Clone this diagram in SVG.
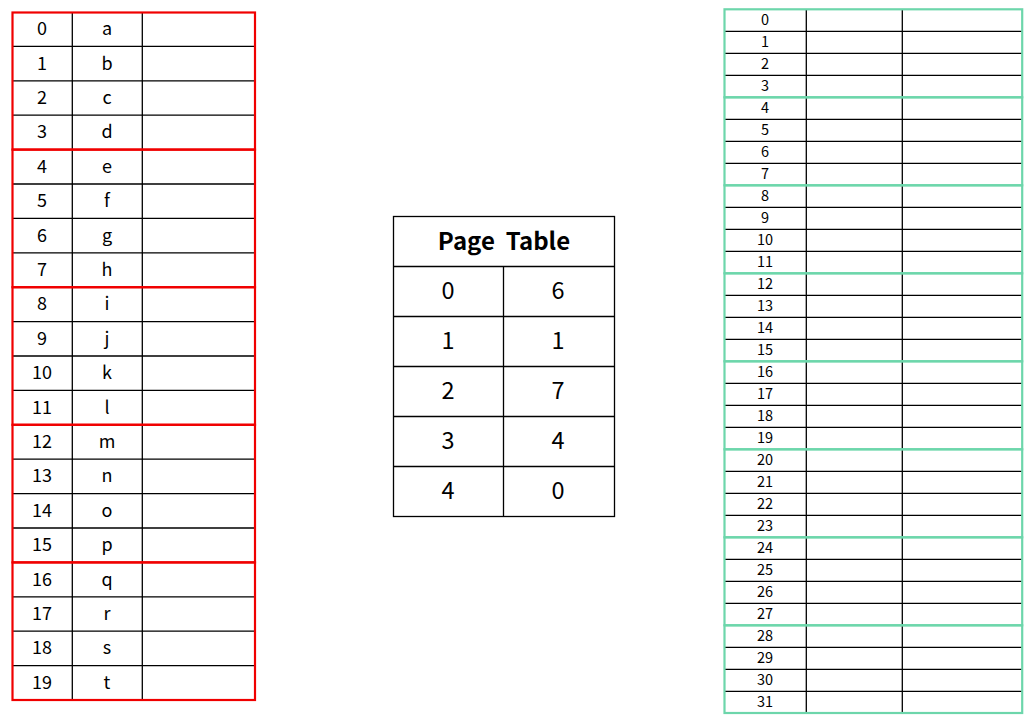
<svg xmlns="http://www.w3.org/2000/svg" width="1032" height="727" viewBox="0 0 1032 727">
<style>
.g{fill:none;stroke:#000;stroke-width:1.3}
.red{fill:none;stroke:#f00000;stroke-width:2.2}
.grn{fill:none;stroke:#6dd6ab;stroke-width:2.2}
text{font-family:"Noto Sans CJK KR","Noto Sans",sans-serif;fill:#000;text-anchor:middle;dominant-baseline:central}
.l{font-size:18px}
.r{font-size:14.5px}
.p{font-size:23.5px}
.h{font-size:24px;font-weight:bold;white-space:pre}
</style>
<rect width="1032" height="727" fill="#fff"/>

<g id="logical-memory">
<path class="g" d="M72.3 12V700M142.3 12V700M12 46.4H255M12 80.8H255M12 115.2H255M12 184H255M12 218.4H255M12 252.8H255M12 321.6H255M12 356H255M12 390.4H255M12 459.2H255M12 493.6H255M12 528H255M12 596.8H255M12 631.2H255M12 665.6H255"/>
<rect class="red" x="12.5" y="12.5" width="242.5" height="137.1"/>
<rect class="red" x="12.5" y="149.6" width="242.5" height="137.6"/>
<rect class="red" x="12.5" y="287.2" width="242.5" height="137.6"/>
<rect class="red" x="12.5" y="424.8" width="242.5" height="137.6"/>
<rect class="red" x="12.5" y="562.4" width="242.5" height="137.6"/>
<g class="l" transform="translate(0,-2)">
<text x="42" y="29.2">0</text><text x="107" y="29.2">a</text>
<text x="42" y="63.6">1</text><text x="107" y="63.6">b</text>
<text x="42" y="98">2</text><text x="107" y="98">c</text>
<text x="42" y="132.4">3</text><text x="107" y="132.4">d</text>
<text x="42" y="166.8">4</text><text x="107" y="166.8">e</text>
<text x="42" y="201.2">5</text><text x="107" y="201.2">f</text>
<text x="42" y="235.6">6</text><text x="107" y="235.6">g</text>
<text x="42" y="270">7</text><text x="107" y="270">h</text>
<text x="42" y="304.4">8</text><text x="107" y="304.4">i</text>
<text x="42" y="338.8">9</text><text x="107" y="338.8">j</text>
<text x="42" y="373.2">10</text><text x="107" y="373.2">k</text>
<text x="42" y="407.6">11</text><text x="107" y="407.6">l</text>
<text x="42" y="442">12</text><text x="107" y="442">m</text>
<text x="42" y="476.4">13</text><text x="107" y="476.4">n</text>
<text x="42" y="510.8">14</text><text x="107" y="510.8">o</text>
<text x="42" y="545.2">15</text><text x="107" y="545.2">p</text>
<text x="42" y="579.6">16</text><text x="107" y="579.6">q</text>
<text x="42" y="614">17</text><text x="107" y="614">r</text>
<text x="42" y="648.4">18</text><text x="107" y="648.4">s</text>
<text x="42" y="682.8">19</text><text x="107" y="682.8">t</text>
</g>
</g>

<g id="page-table">
<rect class="g" x="393.5" y="216.5" width="221" height="300"/>
<path class="g" d="M393.5 266.5H614.5M393.5 316.5H614.5M393.5 366.5H614.5M393.5 416.5H614.5M393.5 466.5H614.5M503.5 266.5V516.5"/>
<text class="h" x="504" y="239">Page  Table</text>
<g class="p" transform="translate(0,-2)">
<text x="448" y="291">0</text><text x="558" y="291">6</text>
<text x="448" y="341">1</text><text x="558" y="341">1</text>
<text x="448" y="391">2</text><text x="558" y="391">7</text>
<text x="448" y="441">3</text><text x="558" y="441">4</text>
<text x="448" y="491">4</text><text x="558" y="491">0</text>
</g>
</g>

<g id="physical-memory">
<path class="g" d="M806.3 9V713M902.3 9V713M724 31.3H1022M724 53.3H1022M724 75.3H1022M724 119.3H1022M724 141.3H1022M724 163.3H1022M724 207.3H1022M724 229.3H1022M724 251.3H1022M724 295.3H1022M724 317.3H1022M724 339.3H1022M724 383.3H1022M724 405.3H1022M724 427.3H1022M724 471.3H1022M724 493.3H1022M724 515.3H1022M724 559.3H1022M724 581.3H1022M724 603.3H1022M724 647.3H1022M724 669.3H1022M724 691.3H1022"/>
<rect class="grn" x="724.5" y="9.3" width="297.7" height="88"/>
<rect class="grn" x="724.5" y="97.3" width="297.7" height="88"/>
<rect class="grn" x="724.5" y="185.3" width="297.7" height="88"/>
<rect class="grn" x="724.5" y="273.3" width="297.7" height="88"/>
<rect class="grn" x="724.5" y="361.3" width="297.7" height="88"/>
<rect class="grn" x="724.5" y="449.3" width="297.7" height="88"/>
<rect class="grn" x="724.5" y="537.3" width="297.7" height="88"/>
<rect class="grn" x="724.5" y="625.3" width="297.7" height="87.7"/>
<g class="r" transform="translate(0,-1.5)">
<text x="765" y="20">0</text><text x="765" y="42">1</text><text x="765" y="64">2</text><text x="765" y="86">3</text>
<text x="765" y="108">4</text><text x="765" y="130">5</text><text x="765" y="152">6</text><text x="765" y="174">7</text>
<text x="765" y="196">8</text><text x="765" y="218">9</text><text x="765" y="240">10</text><text x="765" y="262">11</text>
<text x="765" y="284">12</text><text x="765" y="306">13</text><text x="765" y="328">14</text><text x="765" y="350">15</text>
<text x="765" y="372">16</text><text x="765" y="394">17</text><text x="765" y="416">18</text><text x="765" y="438">19</text>
<text x="765" y="460">20</text><text x="765" y="482">21</text><text x="765" y="504">22</text><text x="765" y="526">23</text>
<text x="765" y="548">24</text><text x="765" y="570">25</text><text x="765" y="592">26</text><text x="765" y="614">27</text>
<text x="765" y="636">28</text><text x="765" y="658">29</text><text x="765" y="680">30</text><text x="765" y="702">31</text>
</g>
</g>
</svg>
